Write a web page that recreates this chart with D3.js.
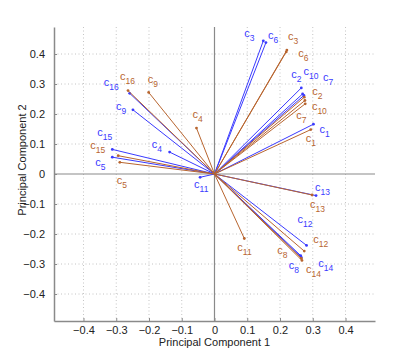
<!DOCTYPE html>
<html>
<head>
<meta charset="utf-8">
<script src="https://cdn.jsdelivr.net/npm/d3@7"></script>
<style>
  body { margin: 0; background: #fff; }
  svg text { font-family: "Liberation Sans", Arial, sans-serif; }
</style>
</head>
<body>
<div id="chart"></div>
<script>
// variable names c1..c16
var names = ["1","2","3","4","5","6","7","8","9","10","11","12","13","14","15","16"];

// first set (blue) loadings
var blueX = [0.302, 0.265, 0.149, -0.137, -0.312, 0.157, 0.273, 0.263, -0.249, 0.269, -0.044, 0.281, 0.310, 0.265, -0.312, -0.259];
var blueY = [0.166, 0.287, 0.444, 0.073, 0.056, 0.438, 0.262, -0.272, 0.214, 0.267, -0.011, -0.238, -0.072, -0.278, 0.082, 0.269];

// second set (brown) loadings
var brownX = [0.294, 0.274, 0.221, -0.055, -0.289, 0.219, 0.277, 0.265, -0.201, 0.276, 0.091, 0.274, 0.298, 0.267, -0.294, -0.264];
var brownY = [0.148, 0.256, 0.413, 0.153, 0.039, 0.407, 0.234, -0.281, 0.272, 0.245, -0.215, -0.257, -0.070, -0.288, 0.061, 0.278];

var ticks = [-0.4, -0.3, -0.2, -0.1, 0, 0.1, 0.2, 0.3, 0.4];

// label offsets in px from the arrow tip (layout only)
var blueLab = [[6,9],[-10,-10],[-19,-4],[-18,-4],[-17,9],[2,-4],[19,-14],[-12,13],[-17,0],[1,-19],[-6,11],[-9,-22],[-1,-5],[17,10],[-15,-13],[-26,-7]];
var brownLab = [[-5,12],[8,-2],[1,-10],[-4,-10],[-3,22],[12,5],[-9,15],[-24,-4],[-1,-9],[7,9],[-7,12],[9,-8],[-2,13],[4,13],[-28,-7],[-8,-11]];

var W = 415, H = 361;
var pLeft = 54, pRight = 375, pTop = 27, pBottom = 321;
var blue = "#3a3aff", brown = "#b8652f";

var svg = d3.select("#chart").append("svg")
  .attr("width", W)
  .attr("height", H);

var x = d3.scaleLinear().domain([-0.49, 0.49]).range([pLeft, pRight]);
var y = d3.scaleLinear().domain([-0.49, 0.49]).range([pBottom, pTop]);

function fmt(d) { return d < 0 ? "\u2212" + Math.abs(d) : String(d); }

// grid
svg.append("g").selectAll("line")
  .data(ticks.filter(function(d) { return d != 0; }))
  .enter().append("line")
  .attr("x1", function(d) { return x(d); })
  .attr("x2", function(d) { return x(d); })
  .attr("y1", pTop).attr("y2", pBottom)
  .attr("stroke", "#c4c4c4")
  .attr("stroke-dasharray", "1,2.5");

svg.append("g").selectAll("line")
  .data(ticks.filter(function(d) { return d != 0; }))
  .enter().append("line")
  .attr("y1", function(d) { return y(d); })
  .attr("y2", function(d) { return y(d); })
  .attr("x1", pLeft).attr("x2", pRight)
  .attr("stroke", "#c4c4c4")
  .attr("stroke-dasharray", "1,2.5");

// zero lines
svg.append("line")
  .attr("x1", x(0)).attr("x2", x(0)).attr("y1", pTop).attr("y2", pBottom)
  .attr("stroke", "#8a8a8a").attr("stroke-width", 1.2);
svg.append("line")
  .attr("x1", pLeft).attr("x2", pRight).attr("y1", y(0)).attr("y2", y(0))
  .attr("stroke", "#8a8a8a").attr("stroke-width", 1.2);

// axes (matlab style, ticks inside)
var xAxis = svg.append("g")
  .attr("transform", "translate(0," + pBottom + ")")
  .call(d3.axisBottom(x).tickValues(ticks).tickSizeInner(-3).tickSizeOuter(0).tickPadding(5).tickFormat(fmt));
var yAxis = svg.append("g")
  .attr("transform", "translate(" + pLeft + ",0)")
  .call(d3.axisLeft(y).tickValues(ticks).tickSizeInner(-3).tickSizeOuter(0).tickPadding(9).tickFormat(fmt));

[xAxis, yAxis].forEach(function(a) {
  a.select(".domain").attr("stroke", "#8a8a8a").attr("stroke-width", 1.5);
  a.selectAll(".tick line").attr("stroke", "#8a8a8a");
  a.selectAll(".tick text")
    .attr("fill", "#222")
    .style("font-size", "11px")
    .style("font-family", "'Liberation Sans', Arial, sans-serif");
});

// axis titles
svg.append("text")
  .attr("x", x(0))
  .attr("y", 346)
  .attr("text-anchor", "middle")
  .attr("fill", "#222")
  .style("font-size", "11px")
  .text("Principal Component 1");

svg.append("text")
  .attr("transform", "translate(26,160) rotate(-90)")
  .attr("text-anchor", "middle")
  .attr("fill", "#222")
  .style("font-size", "11px")
  .text("Principal Component 2");

function drawSet(xs, ys, offs, color) {
  var g = svg.append("g");
  var data = names.map(function(n, i) { return {name: n, x: xs[i], y: ys[i], off: offs[i]}; });

  g.selectAll("line.vec")
    .data(data)
    .enter().append("line")
    .attr("class", "vec")
    .attr("x1", x(0)).attr("y1", y(0))
    .attr("x2", function(d) { return x(d.x); })
    .attr("y2", function(d) { return y(d.y); })
    .attr("stroke", color)
    .attr("stroke-width", 1);

  g.selectAll("circle")
    .data(data)
    .enter().append("circle")
    .attr("cx", function(d) { return x(d.x); })
    .attr("cy", function(d) { return y(d.y); })
    .attr("r", 1.4)
    .attr("fill", color);

  var t = g.selectAll("text")
    .data(data)
    .enter().append("text")
    .attr("x", function(d) { return x(d.x) + d.off[0]; })
    .attr("y", function(d) { return y(d.y) + d.off[1]; })
    .attr("fill", color)
    .style("font-size", "11px");
  t.append("tspan").text("c");
  t.append("tspan")
    .attr("dy", 4)
    .style("font-size", "8.5px")
    .text(function(d) { return d.name; });
}

drawSet(blueX, blueY, blueLab, blue);
drawSet(brownX, brownY, brownLab, brown);
</script>
</body>
</html>
